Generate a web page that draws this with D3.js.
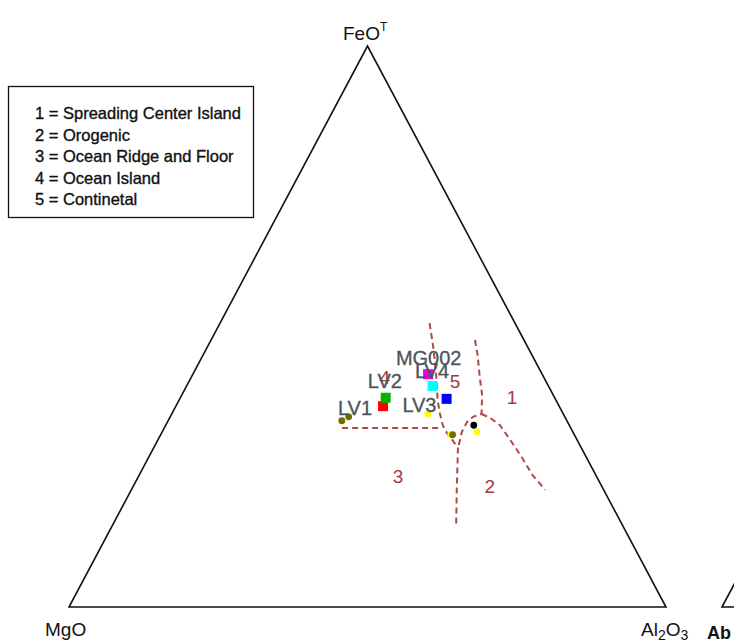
<!DOCTYPE html>
<html>
<head>
<meta charset="utf-8">
<script src="https://cdn.jsdelivr.net/npm/d3@7"></script>
<style>
  html, body { margin: 0; padding: 0; background: #fff; }
  svg { display: block; font-family: Arial, "Liberation Sans", sans-serif; }
</style>
</head>
<body>
<svg id="chart" width="734" height="642"></svg>
<script>
// ---- data (ternary: FeO^T, MgO, Al2O3, in %) ----
const legendItems = ["1 = Spreading Center Island", "2 = Orogenic", "3 = Ocean Ridge and Floor", "4 = Ocean Island", "5 = Continetal"];

const squareFeO   = [35.8, 37.3, 41.5, 39.4, 37.1];
const squareMgO   = [29.5, 28.3, 19.1, 19.4, 18.2];
const squareAl2O3 = [34.7, 34.4, 39.4, 41.2, 44.7];
const squareColors = ["#ff0000", "#00b400", "#e600e6", "#00ffff", "#0000ff"];

const dotFeO   = [33.2, 33.9, 34.4, 30.7, 30.7, 32.4, 31.2];
const dotMgO   = [37.7, 36.2, 22.7, 20.7, 20.4, 16.0, 16.1];
const dotAl2O3 = [29.1, 29.9, 42.9, 48.6, 48.9, 51.6, 52.7];
const dotColors = ["#6e6e00", "#6e6e00", "#ffff00", "#ffff00", "#6e6e00", "#000000", "#ffff00"];

const sampleNames = ["LV1", "LV2", "LV3", "LV4", "MG002"];
const nameFeO   = [34.2, 39.0, 34.8, 40.8, 43.1];
const nameMgO   = [35.0, 27.6, 23.9, 18.8, 18.2];
const nameAl2O3 = [30.8, 33.4, 41.3, 40.4, 38.7];

// field boundaries (dashed)
const boundary1FeO   = [50.6, 46.4, 42.3, 36.9, 34.6, 32.4, 31.0, 29.8, 28.3, 26.2, 20.9, 14.3];
const boundary1Al2O3 = [35.1, 37.8, 40.3, 43.3, 44.8, 46.4, 47.8, 49.3, 51.0, 52.0, 54.5, 57.7];
const boundary2FeO   = [31.9, 31.9];
const boundary2Al2O3 = [29.8, 46.5];
const boundary3FeO   = [47.6, 44.9, 41.0, 37.8, 34.4, 33.9, 33.0, 31.2, 29.8, 28.3];
const boundary3Al2O3 = [44.2, 46.0, 48.3, 50.3, 51.9, 50.7, 50.2, 50.2, 50.6, 51.0];
const boundary4FeO   = [34.4, 33.7, 32.4, 29.8, 26.6, 23.5, 20.9];
const boundary4Al2O3 = [51.9, 53.7, 56.0, 59.0, 62.6, 65.9, 69.3];

const fieldNames = ["1", "2", "3", "4", "5"];
const fieldFeO   = [37.4, 21.6, 23.4, 41.0, 40.3];
const fieldAl2O3 = [55.5, 59.7, 43.4, 32.4, 44.5];

// ---- scales ----
const svg = d3.select("#chart");
const x = d3.scaleLinear().domain([0, 1]).range([69, 666]);
const x2 = d3.scaleLinear().domain([0, 1]).range([722, 1319]);
const y = d3.scaleLinear().domain([0, 1]).range([607, 46]);

// ternary -> cartesian in unit space (FeO at top, MgO bottom-left, Al2O3 bottom-right)
function tern(fe, al) { const a = fe / 100, c = al / 100; return [c + a / 2, a]; }
function px(fe, al, xs) { const p = tern(fe, al); return [(xs || x)(p[0]), y(p[1])]; }

// ---- triangles ----
const corners = [[0, 0], [1, 0], [0.5, 1]];
const triLine = d3.line().x(d => x(d[0])).y(d => y(d[1]));
svg.append("path").attr("d", triLine(corners) + "Z")
  .attr("fill", "none").attr("stroke", "#111").attr("stroke-width", 1.6).attr("stroke-linejoin", "miter");
const triLine2 = d3.line().x(d => x2(d[0])).y(d => y(d[1]));
svg.append("path").attr("d", triLine2(corners) + "Z")
  .attr("fill", "none").attr("stroke", "#111").attr("stroke-width", 1.6);

// ---- vertex labels ----
const fe = svg.append("text").attr("x", 343).attr("y", 40).attr("font-size", 19).attr("fill", "#111");
fe.append("tspan").text("FeO");
fe.append("tspan").attr("font-size", 12).attr("dy", -9).text("T");
svg.append("text").attr("x", 45).attr("y", 636).attr("font-size", 19).attr("fill", "#111").text("MgO");
const al = svg.append("text").attr("x", 641).attr("y", 636).attr("font-size", 19).attr("fill", "#111");
al.append("tspan").text("Al");
al.append("tspan").attr("font-size", 14).attr("dy", 4).text("2");
al.append("tspan").attr("dy", -4).text("O");
al.append("tspan").attr("font-size", 14).attr("dy", 4).text("3");
svg.append("text").attr("x", 707).attr("y", 639).attr("font-size", 18).attr("font-weight", "bold").attr("fill", "#111").text("Ab");

// ---- boundaries ----
const bLine = d3.line().x(d => d[0]).y(d => d[1]);
const boundaries = [
  [boundary1FeO, boundary1Al2O3],
  [boundary2FeO, boundary2Al2O3],
  [boundary3FeO, boundary3Al2O3],
  [boundary4FeO, boundary4Al2O3]
];
boundaries.forEach(b => {
  const pts = b[0].map((f, i) => px(f, b[1][i]));
  svg.append("path").attr("d", bLine(pts)).attr("fill", "none")
    .attr("stroke", "#b04848").attr("stroke-width", 2).attr("stroke-dasharray", "6,4");
});

// field numbers
fieldNames.forEach((n, i) => {
  const p = px(fieldFeO[i], fieldAl2O3[i]);
  svg.append("text").attr("x", p[0]).attr("y", p[1] + 7).attr("text-anchor", "middle")
    .attr("font-size", 19).attr("fill", "#a83838").text(n);
});

// ---- points ----
dotFeO.forEach((f, i) => {
  const p = px(f, dotAl2O3[i]);
  svg.append("circle").attr("cx", p[0]).attr("cy", p[1]).attr("r", 3.4)
    .attr("fill", dotColors[i]);
});
squareFeO.forEach((f, i) => {
  const p = px(f, squareAl2O3[i]);
  svg.append("rect").attr("x", p[0] - 5).attr("y", p[1] - 5).attr("width", 10).attr("height", 10)
    .attr("fill", squareColors[i]);
});

// sample labels
sampleNames.forEach((n, i) => {
  const p = px(nameFeO[i], nameAl2O3[i]);
  svg.append("text").attr("x", p[0]).attr("y", p[1]).attr("text-anchor", "middle")
    .attr("font-size", 20).attr("fill", "#4c545c")
    .attr("stroke", "#4c545c").attr("stroke-width", 0.3).text(n);
});

// ---- legend ----
svg.append("rect").attr("x", 8.5).attr("y", 86.5).attr("width", 245).attr("height", 131)
  .attr("fill", "#fff").attr("stroke", "#111").attr("stroke-width", 1.3);
legendItems.forEach((t, i) => {
  svg.append("text").attr("x", 35).attr("y", 119 + i * 21.5).attr("font-size", 16.5)
    .attr("fill", "#111").attr("stroke", "#111").attr("stroke-width", 0.35).text(t);
});
</script>
</body>
</html>
